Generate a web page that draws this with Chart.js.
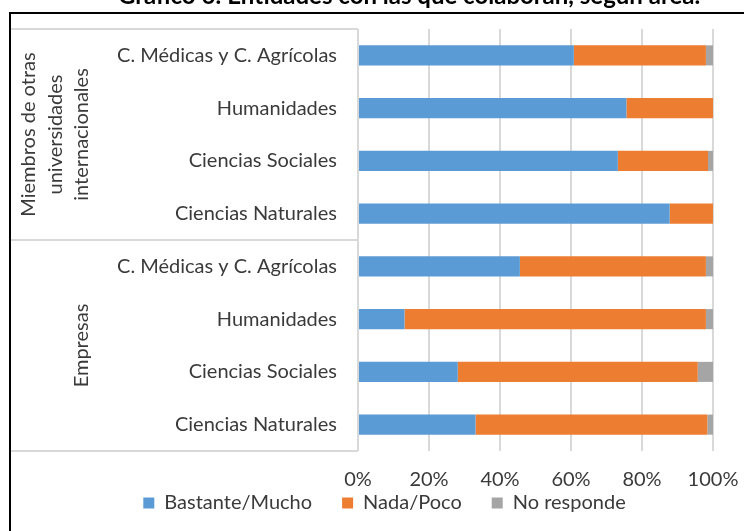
<!DOCTYPE html>
<html>
<head>
<meta charset="utf-8">
<script src="https://cdn.jsdelivr.net/npm/chart.js@4"></script>
<style>
  body { margin: 0; background: #fff; }
  #wrap { width: 744px; height: 531px; position: relative; }
</style>
</head>
<body>
<div id="wrap"><canvas id="chart" width="744" height="531"></canvas></div>
<script>
const titleText = 'Gráfico 6: Entidades con las que colaboran, según área.';
const groupLabels = [['Miembros de otras', 'universidades', 'internacionales'], ['Empresas']];
const areas = [
    'C. Médicas y C. Agrícolas', 'Humanidades', 'Ciencias Sociales', 'Ciencias Naturales',
    'C. Médicas y C. Agrícolas', 'Humanidades', 'Ciencias Sociales', 'Ciencias Naturales'
];
const bastante = [60.8, 75.6, 73.2, 87.8, 45.6, 13.1, 28.1, 33.1];
const nadaPoco = [37.2, 24.4, 25.4, 12.2, 52.4, 84.9, 67.6, 65.3];
const noResponde = [2.0, 0, 1.4, 0, 2.0, 2.0, 4.3, 1.6];
const xTicks = [0, 20, 40, 60, 80, 100];

const FONT = 'Lato, "Open Sans", sans-serif';
const TEXT = '#3a3a3a';
const LINE = '#d9d9d9';
const PAD_LEFT = 56; // pushes the centred legend to where the reference has it

// frame, title, group labels and the box round the category labels
const decor = {
    id: 'decor',
    beforeDraw(chart) {
        const ctx = chart.ctx;
        const y = chart.scales.y;
        const left = 11, right = chart.chartArea.left;
        const top = chart.chartArea.top, bottom = chart.chartArea.bottom;
        const mid = y.getPixelForValue(3.5);
        ctx.save();
        ctx.fillStyle = '#000';
        ctx.fillRect(9, 12, 744, 2);
        ctx.fillRect(9, 12, 2, 531);

        ctx.font = 'bold 24px ' + FONT;
        ctx.textBaseline = 'alphabetic';
        ctx.textAlign = 'left';
        ctx.fillText(titleText, 118, 4);

        ctx.strokeStyle = LINE;
        ctx.lineWidth = 2;
        ctx.beginPath();
        ctx.moveTo(left, top); ctx.lineTo(right, top);
        ctx.moveTo(left, mid); ctx.lineTo(right, mid);
        ctx.moveTo(left, bottom); ctx.lineTo(right, bottom);
        ctx.stroke();

        ctx.fillStyle = TEXT;
        ctx.font = '20px ' + FONT;
        ctx.textAlign = 'center';
        const g1 = (top + mid) / 2, g2 = (mid + bottom) / 2;
        const base1 = [35, 61.5, 88];
        groupLabels[0].forEach((t, i) => {
            ctx.save();
            ctx.translate(base1[i], g1);
            ctx.rotate(-Math.PI / 2);
            ctx.fillText(t, 0, 0);
            ctx.restore();
        });
        ctx.save();
        ctx.translate(88, g2);
        ctx.rotate(-Math.PI / 2);
        ctx.fillText(groupLabels[1][0], 0, 0);
        ctx.restore();
        ctx.restore();
    }
};

new Chart(document.getElementById('chart'), {
    type: 'bar',
    data: {
        labels: areas,
        datasets: [
            { label: 'Bastante/Mucho', data: bastante, backgroundColor: '#5b9bd5' },
            { label: 'Nada/Poco', data: nadaPoco, backgroundColor: '#ed7d31' },
            { label: 'No responde', data: noResponde, backgroundColor: '#a5a5a5' }
        ]
    },
    options: {
        responsive: false,
        animation: false,
        indexAxis: 'y',
        barPercentage: 0.38,
        categoryPercentage: 1,
        layout: { padding: { left: PAD_LEFT, top: 29, right: 31, bottom: 8 } },
        plugins: {
            tooltip: { enabled: false },
            legend: {
                position: 'bottom',
                labels: {
                    font: { family: FONT, size: 20 },
                    color: TEXT,
                    boxWidth: 11,
                    boxHeight: 11,
                    padding: 30
                }
            }
        },
        scales: {
            x: {
                stacked: true,
                min: 0,
                max: 100,
                afterBuildTicks(scale) { scale.ticks = xTicks.map(v => ({ value: v })); },
                afterFit(scale) {
                    scale.height = 12;
                    scale.paddingLeft = 0;
                    scale.paddingRight = 0;
                    // the legend sits close under the tick labels, so don't clip them to the thin axis box
                    scale._computeLabelArea = () => undefined;
                },
                ticks: {
                    callback: v => v + '%',
                    font: { family: FONT, size: 20 },
                    color: TEXT,
                    padding: 17,
                    maxRotation: 0
                },
                grid: { color: LINE, lineWidth: 2, drawTicks: false },
                border: { display: false }
            },
            y: {
                stacked: true,
                afterFit(scale) {
                    scale.width = 358 - PAD_LEFT;
                    scale.paddingTop = 0;
                    scale.paddingBottom = 0;
                },
                ticks: {
                    font: { family: FONT, size: 20 },
                    color: TEXT,
                    padding: 21
                },
                grid: { display: false, drawTicks: false },
                border: { display: false }
            }
        }
    },
    plugins: [decor]
});
</script>
</body>
</html>
